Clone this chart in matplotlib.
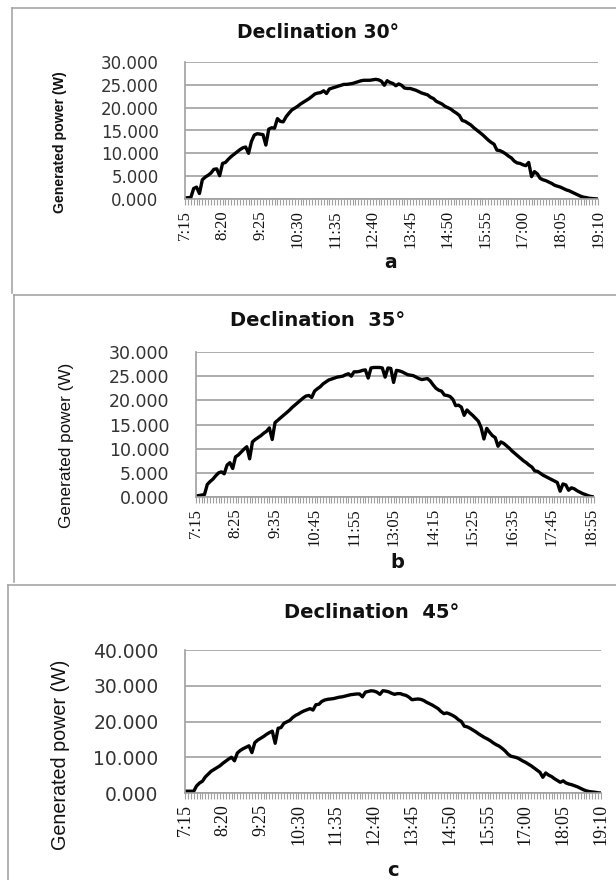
import matplotlib
matplotlib.use("Agg")
from matplotlib import pyplot as plt
from matplotlib.lines import Line2D
from matplotlib.ticker import FormatStrFormatter
import numpy as np

W, H, DPI = 616, 880, 100

# generated power (W) every 5 minutes from 7:15
power_30 = [0.2, 0.3, 0.3, 2.3, 2.6, 1.2, 4.2, 4.8, 5.2, 5.7,
            6.5, 6.6, 5.1, 7.8, 8.0, 8.7, 9.3, 9.8, 10.3, 10.8,
            11.2, 11.4, 10.0, 12.6, 14.0, 14.3, 14.2, 14.1, 11.8, 15.3,
            15.6, 15.5, 17.6, 17.0, 16.9, 18.0, 18.8, 19.5, 19.9, 20.3,
            20.8, 21.2, 21.6, 22.0, 22.5, 23.0, 23.2, 23.3, 23.7, 23.1,
            24.1, 24.3, 24.5, 24.7, 24.9, 25.1, 25.1, 25.2, 25.3, 25.5,
            25.7, 25.9, 26.0, 26.0, 26.0, 26.1, 26.2, 26.1, 25.8, 24.9,
            25.9, 25.5, 25.3, 24.8, 25.2, 24.9, 24.3, 24.2, 24.2, 24.0,
            23.8, 23.5, 23.2, 23.0, 22.8, 22.3, 22.0, 21.4, 21.1, 20.8,
            20.3, 20.0, 19.7, 19.2, 18.8, 18.3, 17.2, 17.0, 16.6, 16.2,
            15.6, 15.1, 14.6, 14.1, 13.5, 12.9, 12.4, 12.0, 10.7, 10.6,
            10.3, 9.9, 9.4, 9.0, 8.3, 7.9, 7.8, 7.5, 7.3, 8.0,
            4.9, 6.0, 5.5, 4.5, 4.2, 4.0, 3.7, 3.4, 3.0, 2.8,
            2.6, 2.3, 2.0, 1.8, 1.5, 1.2, 0.9, 0.6, 0.4, 0.3,
            0.15, 0.1, 0.05, 0.0]

power_35 = [0.2, 0.3, 0.4, 0.5, 2.6, 3.2, 3.7, 4.4, 5.0, 5.2,
            4.8, 6.6, 7.1, 5.9, 8.3, 8.7, 9.3, 9.9, 10.4, 7.9,
            11.4, 11.9, 12.3, 12.7, 13.2, 13.6, 14.3, 11.9, 15.4, 15.9,
            16.4, 16.9, 17.4, 17.9, 18.5, 19.0, 19.5, 20.0, 20.5, 20.9,
            21.0, 20.6, 21.9, 22.4, 22.8, 23.4, 23.8, 24.2, 24.4, 24.6,
            24.8, 24.9, 25.0, 25.3, 25.5, 25.0, 25.9, 25.9, 26.0, 26.2,
            26.3, 24.6, 26.7, 26.8, 26.8, 26.8, 26.7, 24.8, 26.7, 26.6,
            23.7, 26.2, 26.1, 25.9, 25.6, 25.3, 25.2, 25.1, 24.8, 24.5,
            24.3, 24.4, 24.5, 24.0, 23.2, 22.5, 22.1, 21.9, 21.1, 21.0,
            20.8, 20.2, 18.9, 19.0, 18.6, 16.9, 18.0, 17.4, 16.9, 16.3,
            15.7, 14.4, 12.0, 14.2, 13.4, 12.7, 12.3, 10.5, 11.4, 11.1,
            10.6, 10.1, 9.5, 9.0, 8.5, 8.0, 7.5, 7.1, 6.6, 6.2,
            5.4, 5.3, 4.9, 4.5, 4.2, 3.9, 3.6, 3.3, 3.0, 1.2,
            2.7, 2.5, 1.4, 1.9, 1.7, 1.3, 1.0, 0.7, 0.5, 0.25,
            0.1, 0.0]

power_45 = [0.5, 0.5, 0.5, 0.5, 2.0, 2.8, 3.3, 4.5, 5.3, 6.1,
            6.6, 7.1, 7.6, 8.3, 8.9, 9.5, 10.0, 9.0, 11.2, 11.9,
            12.4, 12.8, 13.2, 11.3, 14.1, 14.8, 15.3, 15.8, 16.4, 16.9,
            17.3, 13.9, 18.1, 18.3, 19.5, 19.9, 20.3, 21.1, 21.7, 22.1,
            22.6, 23.0, 23.3, 23.6, 23.2, 24.7, 24.8, 25.6, 26.0, 26.2,
            26.3, 26.4, 26.6, 26.8, 26.9, 27.1, 27.3, 27.5, 27.6, 27.7,
            27.7, 26.9, 28.2, 28.4, 28.6, 28.5, 28.2, 27.6, 28.6, 28.5,
            28.3, 27.9, 27.6, 27.8, 27.8, 27.5, 27.3, 26.8, 26.1, 26.2,
            26.3, 26.2, 25.9, 25.4, 25.0, 24.6, 24.1, 23.6, 22.8, 22.2,
            22.4, 22.1, 21.7, 21.2, 20.5, 20.0, 18.7, 18.5, 18.1, 17.6,
            17.1, 16.5, 16.0, 15.5, 15.1, 14.6, 14.0, 13.5, 13.1, 12.5,
            11.8, 10.9, 10.3, 10.1, 9.9, 9.5, 9.0, 8.6, 8.1, 7.6,
            7.0, 6.4, 5.8, 4.4, 5.6, 5.0, 4.6, 4.0, 3.5, 3.0,
            3.4, 2.8, 2.5, 2.3, 2.0, 1.7, 1.3, 0.9, 0.6, 0.4,
            0.3, 0.2, 0.05, 0.0]

ticks_30 = ["7:15", "8:20", "9:25", "10:30", "11:35", "12:40",
            "13:45", "14:50", "15:55", "17:00", "18:05", "19:10"]
ticks_35 = ["7:15", "8:25", "9:35", "10:45", "11:55", "13:05",
            "14:15", "15:25", "16:35", "17:45", "18:55"]
ticks_45 = ["7:15", "8:20", "9:25", "10:30", "11:35", "12:40",
            "13:45", "14:50", "15:55", "17:00", "18:05", "19:10"]

GRID = "#a0a0a0"


def clock(start, n, step=5):
    h, m = map(int, start.split(":"))
    t0 = h * 60 + m
    return ["%d:%02d" % divmod(t0 + k * step, 60) for k in range(n)]


fig = plt.figure(figsize=(W / DPI, H / DPI), dpi=DPI)


def fx(px):
    return px / W


def fy(py):
    return 1 - py / H


def px_axes(left, top, right, bottom):
    return fig.add_axes([fx(left), fy(bottom), (right - left) / W, (bottom - top) / H])


def panel(box, values, ticks, ymax, ystep, title, title_xy, tag, tag_xy,
          ylab_xy, fs_title, fs_y, fs_ylab, fs_x, ylab_weight="normal"):
    ax = px_axes(*box)
    times = clock("7:15", len(values))
    x = np.arange(len(values))
    ax.plot(x, values, color="black", lw=2.4, solid_joinstyle="round")
    ax.set_xlim(0, len(values) - 1)
    ax.set_ylim(0, ymax)
    ax.set_yticks(np.arange(0, ymax + 0.1, ystep))
    ax.yaxis.set_major_formatter(FormatStrFormatter("%.3f"))
    ax.grid(axis="y", color=GRID, lw=1.2)
    ax.set_axisbelow(True)
    for side in ("top", "right"):
        ax.spines[side].set_visible(False)
    for side in ("left", "bottom"):
        ax.spines[side].set_color(GRID)
        ax.spines[side].set_linewidth(1.2)
    ax.set_xticks([times.index(t) for t in ticks])
    ax.set_xticks(x, minor=True)
    ax.set_xticklabels(ticks, rotation=90, fontsize=fs_x, family="Liberation Serif",
                       color="#111111")
    ax.tick_params(axis="x", which="both", length=4, width=0.8, color=GRID, pad=4)
    ax.tick_params(axis="y", length=0, pad=19, labelsize=fs_y, labelcolor="#333333")

    fig.text(fx(title_xy[0]), fy(title_xy[1]), title, ha="center", va="center",
             fontsize=fs_title, fontweight="bold", color="#111111")
    fig.text(fx(tag_xy[0]), fy(tag_xy[1]), tag, ha="center", va="center",
             fontsize=fs_title, fontweight="bold", color="#111111")
    fig.text(fx(ylab_xy[0]), fy(ylab_xy[1]), "Generated power (W)", rotation=90,
             ha="center", va="center", fontsize=fs_ylab, family="Liberation Sans",
             fontweight=ylab_weight, color="#111111")
    return ax


panel((185, 62, 598, 199), power_30, ticks_30, 30, 5, "Declination 30°",
      (318, 32), "a", (391, 263), (60, 142), 13.5, 12, 10.2, 12, "bold")
panel((196, 352, 594, 497), power_35, ticks_35, 30, 5, "Declination  35°",
      (318, 321), "b", (397, 563), (67, 445), 14, 12.5, 12.3, 12)
panel((185, 650, 601, 793), power_45, ticks_45, 40, 10, "Declination  45°",
      (372, 613), "c", (393, 870), (61, 755), 14, 13.5, 14.2, 13)

# frames around the three charts
for left, top, bottom in ((12, 8, 293), (14, 295, 582), (8, 585, 880)):
    fig.add_artist(Line2D([fx(left), fx(left)], [fy(top), fy(bottom)],
                          color="#a6a6a6", lw=1.2))
    fig.add_artist(Line2D([fx(left), 1.0], [fy(top), fy(top)],
                          color="#a6a6a6", lw=1.2))

fig.savefig("out.png", dpi=DPI)
